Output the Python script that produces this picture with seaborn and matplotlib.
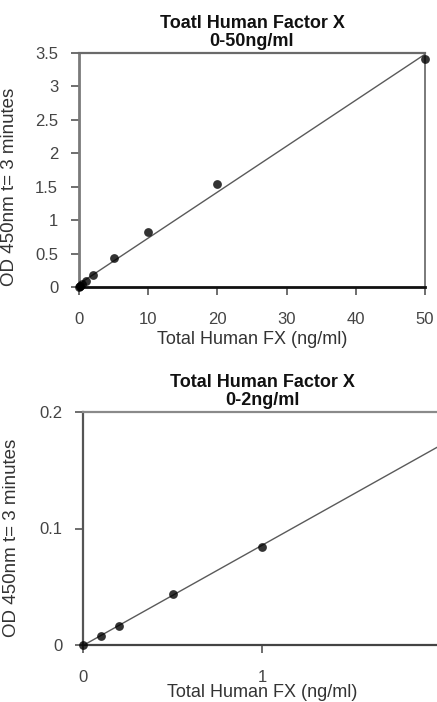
import numpy as np
import matplotlib
matplotlib.use("Agg")
import matplotlib.pyplot as plt
import seaborn as sns

# standard curve, full range 0-50 ng/ml
conc_full = [0, 0.1, 0.2, 0.5, 1, 2, 5, 10, 20, 50]
od_full = [0, 0.008, 0.016, 0.043, 0.084, 0.18, 0.435, 0.83, 1.54, 3.41]

# low range 0-2 ng/ml
conc_low = [0, 0.1, 0.2, 0.5, 1, 2]
od_low = [0, 0.008, 0.0163, 0.0435, 0.0844, 0.172]

full_yticks = [0, 0.5, 1, 1.5, 2, 2.5, 3, 3.5]
full_yticklabels = ["0", "0.5", "1", "1.5", "2", "2.5", "3", "3.5"]
full_xticks = [0, 10, 20, 30, 40, 50]
low_yticks = [0, 0.1, 0.2]
low_yticklabels = ["0", "0.1", "0.2"]
low_xticks = [0, 1, 2]

sns.set_style("ticks")
plt.rcParams['font.family'] = ['Liberation Sans', 'DejaVu Sans']

W, H = 437, 702
fig = plt.figure(figsize=(W / 100, H / 100), dpi=100)


def px_axes(left, top, right, bottom):
    return fig.add_axes([left / W, 1 - bottom / H, (right - left) / W, (bottom - top) / H])


def draw_panel(ax, x, y, title, xlim, ylim, xticks, yticks, yticklabels,
               label_y, spine_style):
    sns.regplot(x=x, y=y, ax=ax, ci=None, truncate=True,
                scatter_kws=dict(s=40, color="black", edgecolor="black",
                                 linewidths=0, zorder=4, clip_on=False),
                line_kws=dict(color="#5a5a5a", linewidth=1.0, zorder=3))
    ax.set_xlim(*xlim)
    ax.set_ylim(*ylim)
    ax.set_xticks(xticks)
    ax.set_xticklabels([str(t) for t in xticks])
    ax.set_yticks(yticks)
    ax.set_yticklabels(yticklabels)
    ax.tick_params(axis="both", direction="out", length=6, width=1.2,
                   colors="#555555", labelsize=12, labelcolor="#444444")
    ax.tick_params(axis="x", pad=12)
    ax.tick_params(axis="y", pad=9)
    for name, (c, w) in spine_style.items():
        ax.spines[name].set_visible(True)
        ax.spines[name].set_color(c)
        ax.spines[name].set_linewidth(w)
    ax.set_title(title, fontsize=13, fontweight="bold", linespacing=1.05,
                 pad=5, color="#111111")
    ax.set_xlabel("Total Human FX (ng/ml)", fontsize=13, color="#333333",
                  labelpad=3)
    ax.set_ylabel("OD 450nm t= 3 minutes", fontsize=13.5, color="#333333")
    ax.yaxis.set_label_coords(-0.176, label_y)
    ax.grid(False)


ax1 = px_axes(79, 53, 425, 287)
draw_panel(ax1, conc_full, od_full, "Toatl Human Factor X\n0-50ng/ml",
           (0, 50), (0, 3.5), full_xticks, full_yticks, full_yticklabels, 0.43,
           {"left": ("#7a7a7a", 2.0), "bottom": ("#111111", 2.0),
            "top": ("#6a6a6a", 1.6), "right": ("#7a7a7a", 1.4)})

ax2 = px_axes(83, 412, 441, 645)
draw_panel(ax2, conc_low, od_low, "Total Human Factor X\n0-2ng/ml",
           (0, 2), (0, 0.2), low_xticks, low_yticks, low_yticklabels, 0.46,
           {"left": ("#555555", 1.6), "bottom": ("#444444", 1.6),
            "top": ("#8a8a8a", 1.6), "right": ("#8a8a8a", 1.4)})
ax2.xaxis.labelpad = -1

fig.savefig("out.png", dpi=100, facecolor="white")
